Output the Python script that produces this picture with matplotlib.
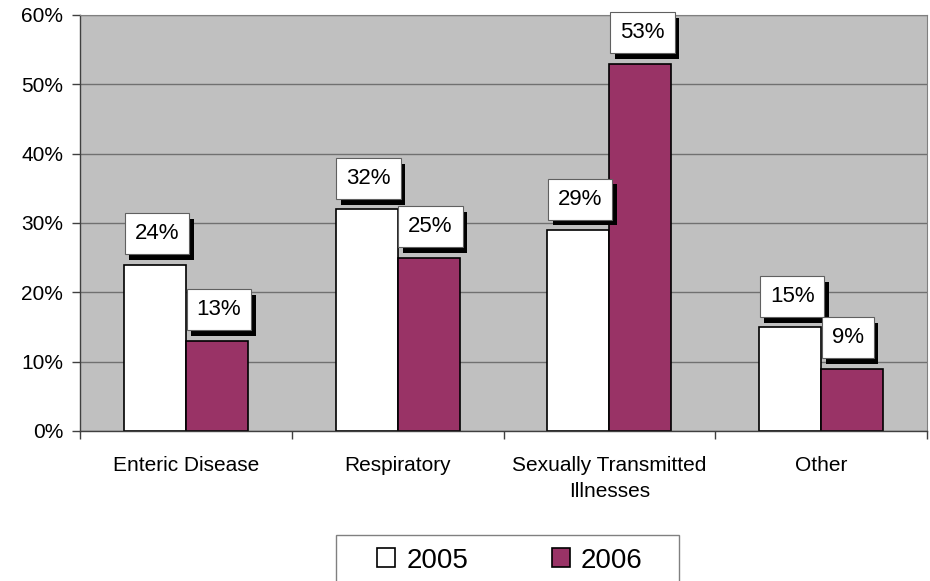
import numpy as np
import matplotlib
matplotlib.use('Agg')
import matplotlib.pyplot as plt
import matplotlib.patheffects as pe
from matplotlib.patches import Rectangle
from matplotlib.ticker import FuncFormatter

plt.rcParams['font.family'] = ['Liberation Sans', 'DejaVu Sans']

categories = ['Enteric Disease', 'Respiratory', 'Sexually Transmitted\nIllnesses', 'Other']
vals_2005 = [24, 32, 29, 15]
vals_2006 = [13, 25, 53, 9]
series_names = ['2005', '2006']
colors = ['#ffffff', '#993366']

fig = plt.figure(figsize=(9.3, 5.81), dpi=100)
ax = fig.add_axes([80 / 930, 150 / 581, 847 / 930, 416 / 581])
ax.set_facecolor('#c0c0c0')

x = np.arange(len(categories))
w = 0.293
bars_a = ax.bar(x - w / 2, vals_2005, w, color=colors[0], edgecolor='black', linewidth=1.2, label=series_names[0])
bars_b = ax.bar(x + w / 2, vals_2006, w, color=colors[1], edgecolor='black', linewidth=1.2, label=series_names[1])

# data labels: white boxes with a black drop shadow, left edge on the bar's left edge
pad = 0.45
fs = 16
for bars, vals in [(bars_a, vals_2005), (bars_b, vals_2006)]:
    for b, v in zip(bars, vals):
        t = ax.annotate(f'{v}%', (b.get_x(), v), xytext=(pad * fs + 0.5, pad * fs + 7.5),
                        textcoords='offset points', ha='left', va='bottom', fontsize=fs,
                        bbox=dict(boxstyle=f'square,pad={pad}', facecolor='white',
                                  edgecolor='#606060', linewidth=0.8),
                        zorder=5, annotation_clip=False)
        t.get_bbox_patch().set_path_effects([
            pe.SimplePatchShadow(offset=(3.3, -4.3), shadow_rgbFace='black', alpha=1.0),
            pe.Normal()])

ax.set_xlim(-0.5, len(categories) - 0.5)
ax.set_ylim(0, 60)
ax.set_yticks(np.arange(0, 61, 10))
ax.yaxis.set_major_formatter(FuncFormatter(lambda v, p: f'{int(v)}%'))
ax.yaxis.grid(True, color='#707070', linewidth=1.0)
ax.set_axisbelow(True)

ax.set_xticks(x)
ax.set_xticklabels(categories, fontsize=15, linespacing=1.45)
ax.set_xticks(np.arange(-0.5, len(categories), 1), minor=True)
ax.tick_params(axis='x', which='major', length=0, pad=18)
ax.tick_params(axis='x', which='minor', length=6, width=1, color='#404040', direction='out')
ax.tick_params(axis='y', length=6, width=1, color='#404040', labelsize=15, pad=6)

for s in ['top', 'right']:
    ax.spines[s].set_color('#808080')
    ax.spines[s].set_linewidth(0.8)
for s in ['left', 'bottom']:
    ax.spines[s].set_color('#404040')
    ax.spines[s].set_linewidth(1.0)

# legend box runs past the bottom edge of the figure
fig.patches.append(Rectangle((336 / 930, -0.05), 343 / 930, 0.05 + 46 / 581,
                             transform=fig.transFigure, facecolor='white',
                             edgecolor='#808080', linewidth=1.0))
leg = fig.legend(loc='upper center', bbox_to_anchor=(510 / 930, 1 - 535 / 581), ncol=2,
                 fontsize=20, frameon=False,
                 handlelength=0.65, handleheight=0.65, handletextpad=0.4,
                 columnspacing=3.0, borderpad=0.45, borderaxespad=0)

fig.savefig('out.png', dpi=100)
